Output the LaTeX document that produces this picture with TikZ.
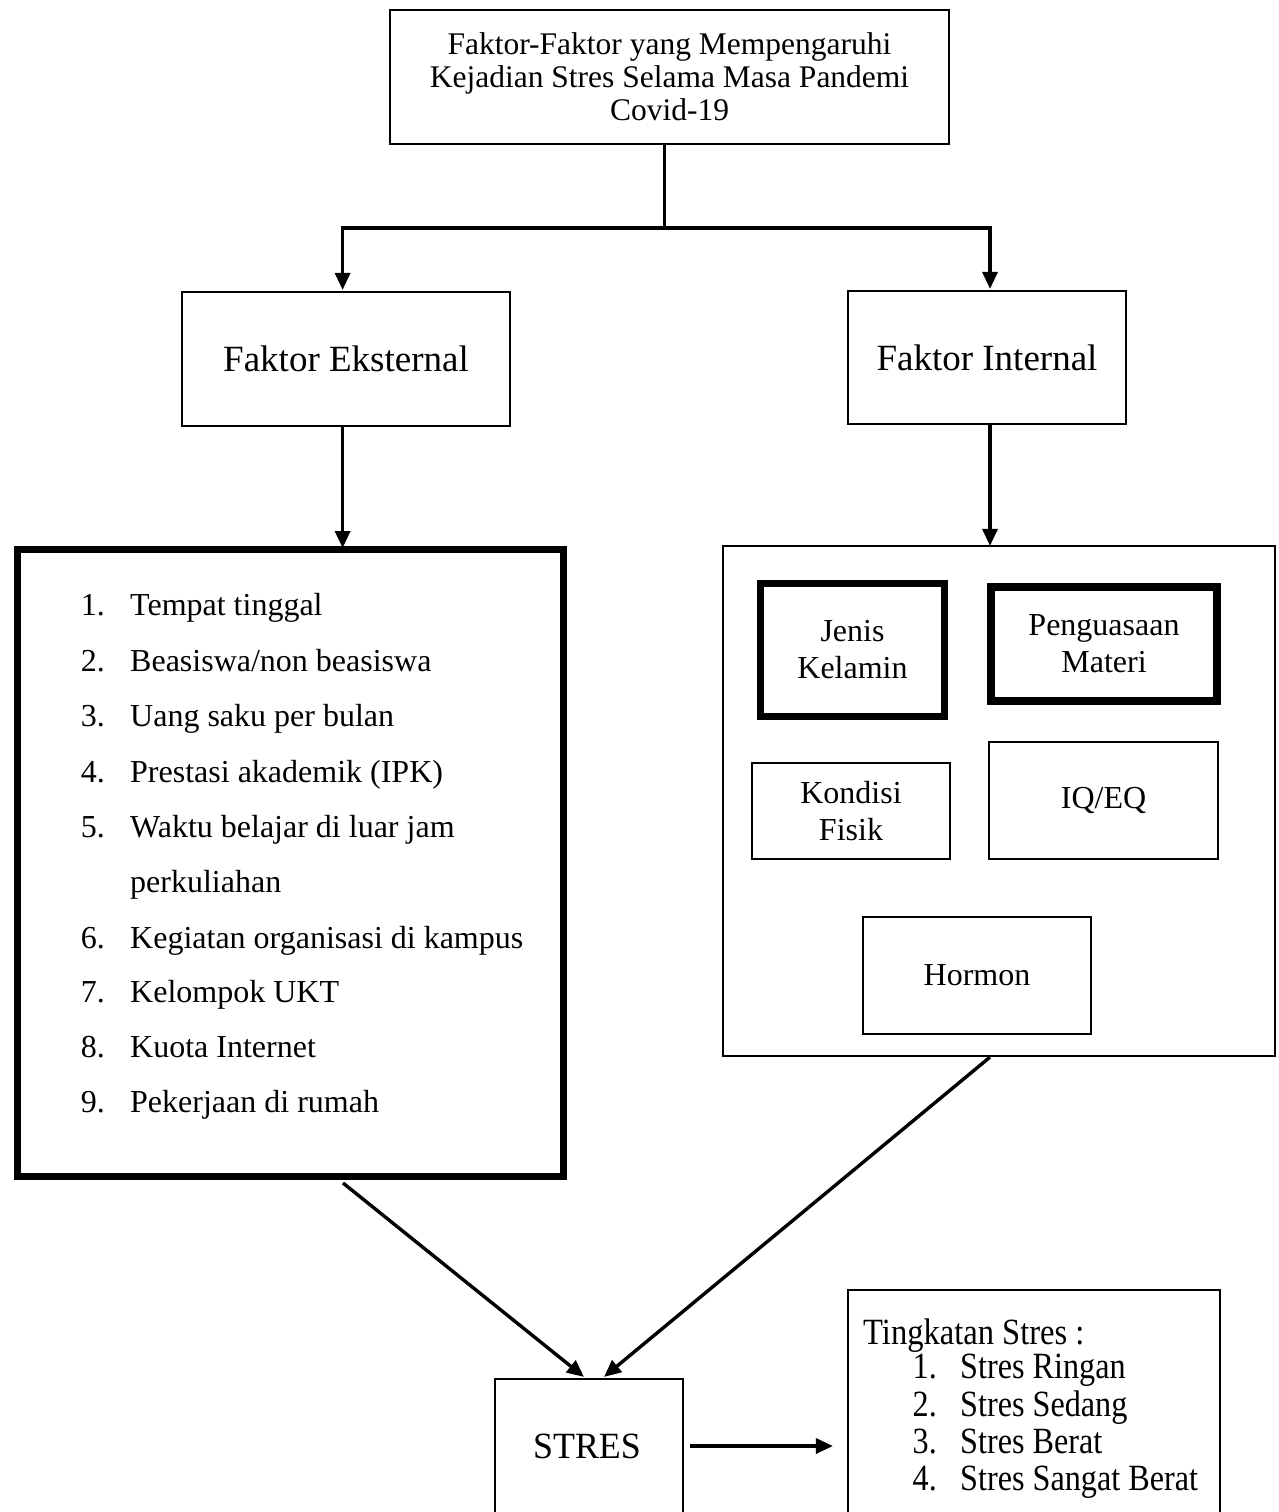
\documentclass[tikz,border=0pt]{standalone}
\usepackage{fontspec}
\usepackage{graphicx}
\setmainfont{Liberation Serif}
\usetikzlibrary{arrows.meta,calc}
\begin{document}
\begin{tikzpicture}[x=1pt,y=-1pt,
  box/.style={draw,line width=2.2pt,inner sep=0pt,align=center},
  thickbox/.style={draw,line width=7pt,inner sep=0pt,align=center},
  conn/.style={line width=3.4pt},
  arr/.style={line width=3.4pt,-{Triangle[length=17pt,width=15pt]}},
  ftop/.style={font=\fontsize{31.5}{33}\selectfont},
  fbig/.style={font=\fontsize{37}{40}\selectfont},
  fin/.style={font=\fontsize{32}{37}\selectfont},
  flist/.style={font=\fontsize{32}{37}\selectfont,inner sep=0pt},
  ftk/.style={font=\fontsize{37}{37}\selectfont,inner sep=0pt}]
\useasboundingbox (0,0) rectangle (1279,1512);
\clip (0,0) rectangle (1279,1512);
\fill[white] (0,0) rectangle (1279,1512);

% top box
\node[box,ftop,minimum width=559pt,minimum height=134pt] (top) at (669.5,77)
  {Faktor-Faktor yang Mempengaruhi\\Kejadian Stres Selama Masa Pandemi\\Covid-19};

% factor boxes
\node[box,fbig,minimum width=328pt,minimum height=134pt] (fe) at (346,359) {Faktor Eksternal};
\node[box,fbig,minimum width=278pt,minimum height=133pt] (fi) at (987,357.5) {Faktor Internal};

% external list box
\node[thickbox,minimum width=546pt,minimum height=627pt] (ext) at (290.5,863) {};
\foreach \n/\t/\y [count=\i] in {1./Tempat tinggal/604, 2./Beasiswa\slash non beasiswa/660,
   3./Uang saku per bulan/715, 4./Prestasi akademik (IPK)/771,
   5./Waktu belajar di luar jam/826, /perkuliahan/881,
   6./Kegiatan organisasi di kampus/937, 7./Kelompok UKT/991,
   8./Kuota Internet/1046, 9./Pekerjaan di rumah/1101}{
  \node[flist,anchor=base east] (ln\i) at (105,\y+11) {\n};
  \node[flist,anchor=base west] (lt\i) at (130,\y+11) {\t};
}

% internal box
\node[box,minimum width=552pt,minimum height=510pt] (int) at (999,801) {};
\node[thickbox,fin,minimum width=184pt,minimum height=133pt] (jk) at (852.5,650) {Jenis\\Kelamin};
\node[thickbox,line width=8pt,fin,minimum width=226pt,minimum height=114pt] (pm) at (1104,644) {Penguasaan\\Materi};
\node[box,fin,minimum width=198pt,minimum height=96pt] (kf) at (851,811) {Kondisi\\Fisik};
\node[box,fin,minimum width=229pt,minimum height=117pt] (iq) at (1103.5,800.5) {IQ/EQ};
\node[box,fin,minimum width=228pt,minimum height=117pt] (hm) at (977,975.5) {Hormon};

% stres box
\node[box,minimum width=188pt,minimum height=150pt] (stres) at (589,1454) {};
\node[fbig,inner sep=0pt] (stxt) at (587,1446) {\scalebox{0.97}[1]{STRES}};

% tingkatan box
\node[box,minimum width=372pt,minimum height=240pt] (tk) at (1034,1410) {};
\node[ftk,anchor=base west] (tkh) at (863,1332+12) {\scalebox{0.88}[1]{Tingkatan Stres :}};
\foreach \n/\t/\y [count=\i] in {1./Stres Ringan/1366, 2./Stres Sedang/1404,
   3./Stres Berat/1441, 4./Stres Sangat Berat/1478}{
  \node[ftk,anchor=base east] (tn\i) at (937,\y+12) {\scalebox{0.87}[1]{\n}};
  \node[ftk,anchor=base west] (tt\i) at (960,\y+12) {\scalebox{0.87}[1]{\t}};
}

% connectors
\coordinate (j) at ($(top.south)+(-5,83)$);
\draw[conn] ([xshift=-5pt]top.south) -- (j);
\draw[conn,line width=4.4pt] (j) -- ([xshift=-1.7pt]fe.north |- j);
\draw[conn] (j) -- ([xshift=1.7pt]fi.north |- j);
\draw[arr] ([xshift=-3.4pt,yshift=1.7pt]fe.north |- j) -- ([xshift=-3.4pt,yshift=1pt]fe.north);
\draw[arr] ([xshift=3pt,yshift=1.7pt]fi.north |- j) -- ([xshift=3pt,yshift=1pt]fi.north);
\draw[arr] ([xshift=-3.4pt]fe.south) -- ([xshift=-3.4pt,yshift=-2pt]fe.south |- ext.north);
\draw[arr] ([xshift=3pt]fi.south) -- ([xshift=3pt,yshift=-1pt]fi.south |- int.north);
\draw[arr] ([xshift=-3pt,yshift=-3pt]fe.south |- ext.south) -- ([xshift=-5pt,yshift=1pt]stres.north);
\draw[arr] ([xshift=3pt]fi.south |- int.south) -- ([xshift=15pt,yshift=1pt]stres.north);
\draw[arr] ([xshift=6pt]stxt.east -| stres.east) -- ([xshift=-14pt]stxt.east -| tk.west);
\end{tikzpicture}
\end{document}
